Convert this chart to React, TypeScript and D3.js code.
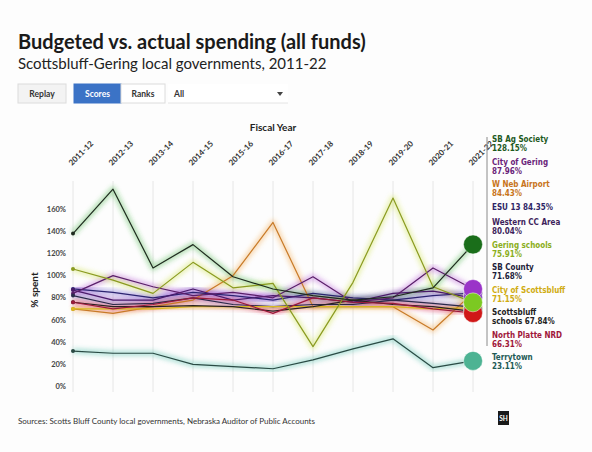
import React from 'react';
import * as d3 from 'd3';

const years = ['2011-12', '2012-13', '2013-14', '2014-15', '2015-16', '2016-17', '2017-18', '2018-19', '2019-20', '2020-21', '2021-22'];

const seriesNames = [
  'SB Ag Society', 'City of Gering', 'W Neb Airport', 'ESU 13', 'Western CC Area',
  'Gering schools', 'SB County', 'City of Scottsbluff', 'Scottsbluff schools', 'North Platte NRD', 'Terrytown',
];

const sbAgSociety = [138, 178, 107, 128, 99, 88, 82, 78, 81, 89, 128.15];
const cityOfGering = [84, 100, 90, 82, 85, 80, 99, 76, 80, 107, 87.96];
const wNebAirport = [70, 66, 72, 78, 100, 148, 72, 72, 72, 51, 84.43];
const esu13 = [88, 85, 80, 85, 82, 78, 84, 80, 78, 82, 84.35];
const westernCC = [87, 78, 78, 88, 78, 82, 80, 76, 84, 86, 80.04];
const geringSchools = [106, 96, 84, 112, 89, 93, 36, 94, 170, 90, 75.91];
const sbCounty = [82, 74, 75, 80, 74, 72, 74, 74, 78, 75, 71.68];
const cityOfScottsbluff = [70, 70, 70, 72, 72, 72, 72, 72, 72, 70, 71.15];
const scottsbluffSchools = [76, 72, 72, 73, 72, 68, 72, 78, 74, 72, 67.84];
const northPlatteNRD = [76, 70, 74, 80, 78, 66, 80, 76, 75, 70, 66.31];
const terrytown = [32, 30, 30, 20, 18, 16, 24, 34, 43, 17, 23.11];

const seriesValues = [
  sbAgSociety, cityOfGering, wNebAirport, esu13, westernCC,
  geringSchools, sbCounty, cityOfScottsbluff, scottsbluffSchools, northPlatteNRD, terrytown,
];

const yTicks = [0, 20, 40, 60, 80, 100, 120, 140, 160];

const glowColors = ['#3cae3c', '#b04ad0', '#f0a040', '#5a48c8', '#8a3cc0', '#c8e040', '#6a5ab0', '#f2d830', '#e07070', '#e0406a', '#40b8a0'];
const coreColors = ['#1f2a1f', '#5a1f6a', '#c87a28', '#2c2470', '#4a1a6a', '#8a9a20', '#2a2a4a', '#d8b820', '#2a2222', '#9a1a3a', '#2a4a44'];
const labelColors = ['#1e5a1e', '#6a1f7a', '#c8741a', '#2e2566', '#3d1f5c', '#8aae20', '#1d1d3a', '#d0ac12', '#222222', '#a0173a', '#1e5a56'];
const dotColors = ['#1a6e1a', '#9a34c8', '#e08a2a', '#4a3aa8', '#8030c0', '#7cc922', '#3a3a6a', '#e6c620', '#333333', '#d01818', '#4db393'];

const labelLines = [
  ['SB Ag Society', '128.15%'], ['City of Gering', '87.96%'], ['W Neb Airport', '84.43%'], ['ESU 13 84.35%'],
  ['Western CC Area', '80.04%'], ['Gering schools', '75.91%'], ['SB County', '71.68%'], ['City of Scottsbluff', '71.15%'],
  ['Scottsbluff', 'schools 67.84%'], ['North Platte NRD', '66.31%'], ['Terrytown', '23.11%'],
];

const drawOrder = [2, 3, 4, 1, 6, 7, 8, 9, 5, 0, 10];

export default function App() {
  const W = 592, H = 452;
  const x = d3.scaleLinear().domain([0, years.length - 1]).range([73, 473]);
  const y = d3.scaleLinear().domain([0, 180]).range([386.5, 187]);
  const line = d3.line<number>().x((_, i) => x(i)).y(d => y(d));
  const sans = 'Lato, "Open Sans", sans-serif';
  const cond = '"DejaVu Sans Condensed", "DejaVu Sans", sans-serif';

  let ly = 139;
  const labelPos = labelLines.map(l => { const p = ly; ly += l.length === 2 ? 22.5 : 15.5; return p; });

  return (
    <svg width={W} height={H} style={{ position: 'absolute', left: 0, top: 0, background: '#fff' }}>
      <defs>
        <filter id="glow" x="-10%" y="-10%" width="120%" height="120%">
          <feGaussianBlur stdDeviation="2.2" />
        </filter>
      </defs>
      <rect x={0} y={0} width={W} height={H} fill="#fdfdfd" />
      <text x={18} y={49} fontFamily={sans} fontWeight={700} fontSize={20} fill="#1a1a1a">Budgeted vs. actual spending (all funds)</text>
      <text x={18} y={69} fontFamily={sans} fontSize={15} fill="#222">Scottsbluff-Gering local governments, 2011-22</text>

      <g fontFamily={sans} fontWeight={700} fontSize={8.5}>
        <rect x={18} y={84} width={48} height={19} fill="#f3f3f3" stroke="#dcdcdc" />
        <text x={42} y={96.5} textAnchor="middle" fill="#333">Replay</text>
        <rect x={74} y={84} width={47} height={19} fill="#3b73c6" stroke="#3b73c6" />
        <text x={97.5} y={96.5} textAnchor="middle" fill="#fff">Scores</text>
        <rect x={121} y={84} width={44} height={19} fill="#fff" stroke="#dcdcdc" />
        <text x={143} y={96.5} textAnchor="middle" fill="#333">Ranks</text>
        <rect x={168} y={84} width={120} height={19} fill="#fff" />
        <line x1={168} x2={288} y1={103} y2={103} stroke="#e4e4e4" />
        <text x={174} y={96.5} fill="#333">All</text>
        <path d="M277,92 L283,92 L280,96 Z" fill="#444" />
      </g>

      <text x={273} y={131} textAnchor="middle" fontFamily={sans} fontWeight={700} fontSize={10} fill="#222">Fiscal Year</text>

      {years.map((yr, i) => (
        <g key={yr}>
          <line x1={x(i)} x2={x(i)} y1={181} y2={392} stroke="#e6e6e6" strokeWidth={1} />
          <text transform={`translate(${x(i) - 1},${166}) rotate(-45)`} fontFamily={sans} fontWeight={700} fontSize={8} fill="#333">{yr}</text>
        </g>
      ))}

      {yTicks.map(t => (
        <text key={t} x={66} y={y(t) + 2.5} textAnchor="end" fontFamily={sans} fontWeight={700} fontSize={7.5} fill="#444">{t}%</text>
      ))}
      <text transform={`translate(38,${290}) rotate(-90)`} textAnchor="middle" fontFamily={sans} fontWeight={700} fontSize={10} fill="#222">% spent</text>

      {drawOrder.map(i => (
        <path key={'g' + i} d={line(seriesValues[i]) || ''} fill="none" stroke={glowColors[i]} strokeWidth={6} strokeOpacity={0.35} strokeLinejoin="round" filter="url(#glow)" />
      ))}
      {drawOrder.map(i => (
        <g key={'l' + i}>
          <path d={line(seriesValues[i]) || ''} fill="none" stroke={coreColors[i]} strokeWidth={1.2} strokeLinejoin="round" />
          <circle cx={x(0)} cy={y(seriesValues[i][0])} r={2} fill={coreColors[i]} />
        </g>
      ))}
      {drawOrder.map(i => {
        const v = seriesValues[i];
        return <circle key={'d' + i} cx={x(v.length - 1)} cy={y(v[v.length - 1])} r={9.5} fill={dotColors[i]} stroke="#fff" strokeOpacity={0.6} strokeWidth={0.8} />;
      })}

      <line x1={487} x2={487} y1={137} y2={346} stroke="#8a8a8a" strokeWidth={1} />
      {labelLines.map((ls, i) => (
        <text key={'t' + i} fontFamily={cond} fontWeight={700} fontSize={8} fill={labelColors[i]}>
          {ls.map((s, j) => (
            <tspan key={j} x={492} y={labelPos[i] + 3 + j * 9.4}>{s}</tspan>
          ))}
        </text>
      ))}

      <text x={18} y={424} fontFamily={sans} fontSize={8} fill="#333">Sources: Scotts Bluff County local governments, Nebraska Auditor of Public Accounts</text>
      <rect x={498} y={411} width={11} height={14} fill="#1a1a1a" />
      <text x={503.5} y={421} textAnchor="middle" fontFamily={sans} fontWeight={700} fontSize={6.5} fill="#fff">SH</text>
    </svg>
  );
}
